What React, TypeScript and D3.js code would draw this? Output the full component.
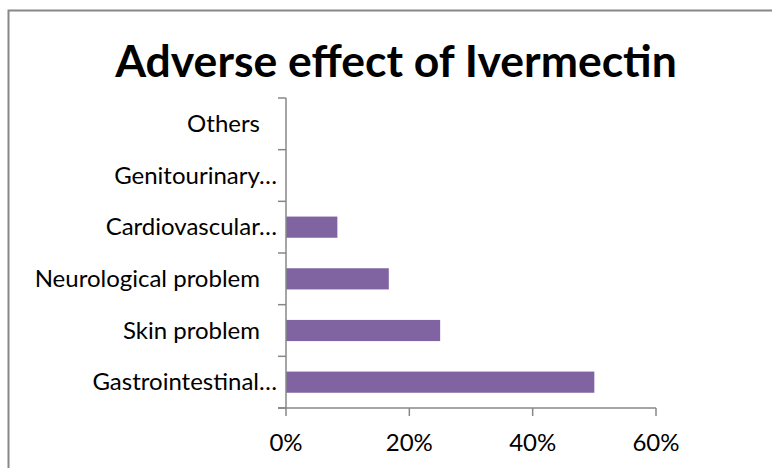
import React, { useRef, useEffect } from "react";
import * as d3 from "d3";

// categories from bottom to top, as in the chart
const categories = [
    "Gastrointestinal…",
    "Skin problem",
    "Neurological problem",
    "Cardiovascular…",
    "Genitourinary…",
    "Others",
];
const values = [0.5, 0.25, 0.1667, 0.0833, 0, 0];
const xTicks = [0, 0.2, 0.4, 0.6];

const FONT = "Lato, 'Open Sans', sans-serif";

const App = () => {
    const svgRef = useRef<SVGSVGElement>(null);

    useEffect(() => {
        if (!svgRef.current) return;
        const width = 772;
        const height = 468;

        d3.select(svgRef.current).selectAll("*").remove();
        const svg = d3.select(svgRef.current).attr("width", width).attr("height", height);

        // chart border (runs off the right and bottom edge)
        svg.append("rect")
            .attr("x", 8.5)
            .attr("y", 10.5)
            .attr("width", 800)
            .attr("height", 500)
            .attr("fill", "white")
            .attr("stroke", "#878787")
            .attr("stroke-width", 2);

        svg.append("text")
            .attr("x", 396)
            .attr("y", 77)
            .attr("text-anchor", "middle")
            .style("font-family", FONT)
            .style("font-size", "44.5px")
            .style("font-weight", "bold")
            .style("fill", "#000")
            .text("Adverse effect of Ivermectin");

        const plot = { left: 286, right: 656, top: 98, bottom: 408 };

        const x = d3.scaleLinear().domain([0, 0.6]).range([plot.left, plot.right]);
        const y = d3.scaleBand()
            .domain([...categories].reverse())
            .range([plot.top, plot.bottom])
            .padding(0);

        const axisColor = "#878787";
        const barH = y.bandwidth() * 0.41;

        // bars
        svg.append("g")
            .selectAll("rect")
            .data(categories.map((c, i) => ({ c, v: values[i] })).filter((d) => d.v > 0))
            .enter()
            .append("rect")
            .attr("x", x(0))
            .attr("y", (d) => (y(d.c) as number) + y.bandwidth() / 2 - barH / 2)
            .attr("width", (d) => x(d.v) - x(0))
            .attr("height", barH)
            .attr("fill", "#8064A2");

        // y axis line + ticks at band edges
        svg.append("line")
            .attr("x1", plot.left).attr("x2", plot.left)
            .attr("y1", plot.top).attr("y2", plot.bottom)
            .attr("stroke", axisColor).attr("stroke-width", 1.5);

        const edges = y.domain().map((c) => y(c) as number).concat([plot.bottom]);
        svg.append("g")
            .selectAll("line")
            .data(edges)
            .enter()
            .append("line")
            .attr("x1", plot.left - 8).attr("x2", plot.left)
            .attr("y1", (d) => d).attr("y2", (d) => d)
            .attr("stroke", axisColor).attr("stroke-width", 1.5);

        // category labels
        svg.append("g")
            .selectAll("text")
            .data(categories)
            .enter()
            .append("text")
            .attr("x", (d) => (d.endsWith("…") ? plot.left - 9 : plot.left - 26))
            .attr("y", (d) => (y(d) as number) + y.bandwidth() / 2 + 8)
            .attr("text-anchor", "end")
            .style("font-family", FONT)
            .style("font-size", "24px")
            .style("fill", "#000")
            .text((d) => d);

        // x axis
        svg.append("line")
            .attr("x1", plot.left - 8).attr("x2", plot.right)
            .attr("y1", plot.bottom).attr("y2", plot.bottom)
            .attr("stroke", axisColor).attr("stroke-width", 1.5);

        const xg = svg.append("g");
        xg.selectAll("line")
            .data(xTicks)
            .enter()
            .append("line")
            .attr("x1", (d) => x(d)).attr("x2", (d) => x(d))
            .attr("y1", plot.bottom).attr("y2", plot.bottom + 8)
            .attr("stroke", axisColor).attr("stroke-width", 1.5);

        xg.selectAll("text")
            .data(xTicks)
            .enter()
            .append("text")
            .attr("x", (d) => x(d))
            .attr("y", plot.bottom + 43)
            .attr("text-anchor", "middle")
            .style("font-family", FONT)
            .style("font-size", "24px")
            .style("fill", "#000")
            .text((d) => d3.format(".0%")(d));
    }, []);

    return (
        <svg
            ref={svgRef}
            style={{ position: "absolute", left: 0, top: 0, display: "block" }}
        />
    );
};

export default App;
